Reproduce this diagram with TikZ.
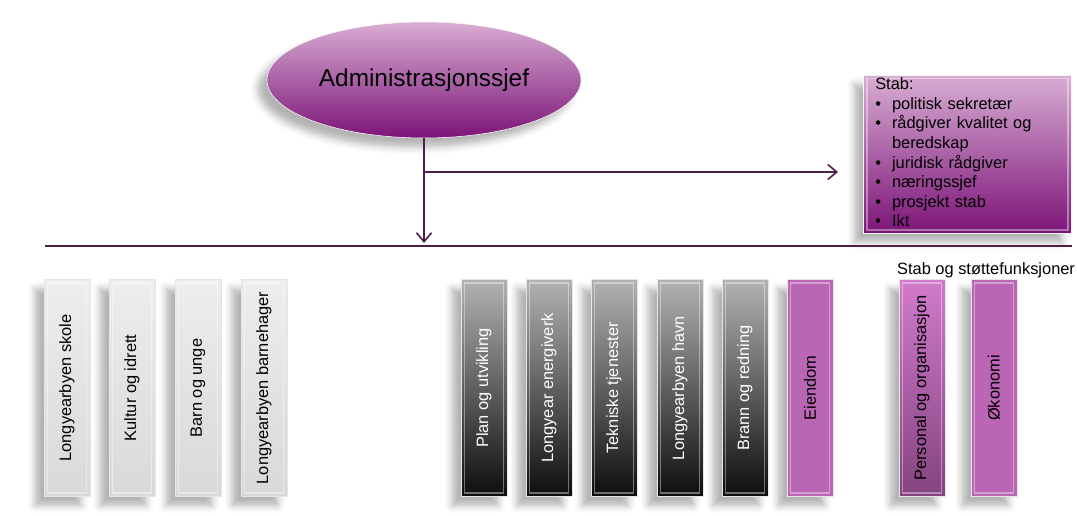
\documentclass[tikz,border=0pt]{standalone}
\usepackage{fontspec}
\setmainfont{Liberation Sans}
\usetikzlibrary{shapes.geometric,arrows.meta,shadows.blur}

\definecolor{linkpurple}{HTML}{4B1F48}
\definecolor{chieftop}{HTML}{D8ADD3}
\definecolor{chiefbottom}{HTML}{7C1478}
\definecolor{eiendom}{HTML}{BB65B5}
\definecolor{persontop}{HTML}{D27ACB}
\definecolor{personbottom}{HTML}{84437F}

\tikzset{
  softshadow/.style={blur shadow={shadow xshift=-9pt,shadow yshift=-9pt,shadow blur radius=7pt,shadow opacity=30}},
  bevel/.style={path picture={
      \draw[white,opacity=0.4,line width=1.4pt]
        ([shift={(3.5pt,3.5pt)}]path picture bounding box.south west)
        rectangle ([shift={(-3.5pt,-3.5pt)}]path picture bounding box.north east);}},
  unit/.style={rectangle, minimum width=46pt, minimum height=217pt, inner sep=0pt,
    draw=white!80!gray, line width=0.6pt, softshadow, bevel,
    font=\fontsize{16.4}{19.6}\selectfont},
  lightunit/.style={unit, top color=black!7, bottom color=black!15},
  darkunit/.style={unit, top color=black!30, middle color=black!48, bottom color=black!95, text=white},
  purpleunit/.style={unit, fill=eiendom},
  personunit/.style={unit, top color=persontop, bottom color=personbottom},
  chief/.style={ellipse, minimum width=314pt, minimum height=116pt, inner sep=0pt,
    top color=chieftop, bottom color=chiefbottom, draw=white!85!chieftop, line width=0.6pt,
    softshadow, font=\fontsize{24.4}{29}\selectfont},
  stabbox/.style={rectangle, minimum width=208pt, minimum height=158pt, text width=184pt,
    inner xsep=12pt, inner ysep=0pt,
    top color=chieftop, bottom color=chiefbottom, draw=white!85!chieftop, line width=0.6pt,
    softshadow, bevel, align=left, font=\fontsize{16.4}{19.6}\selectfont},
  link/.style={draw=linkpurple, line width=1.6pt},
  tip/.style={-{Straight Barb[length=9pt,width=15pt]}}
}

\begin{document}
\begin{tikzpicture}[x=1pt,y=-1pt]
  \useasboundingbox (0,0) rectangle (1077,516);

  % top
  \node[chief] (admin) at (424,80) {Administrasjonssjef};
  \node[stabbox, anchor=north west] (stab) at (863,75) {%
    \begin{tabular}{@{}l@{\hspace{11pt}}l@{}}
      \multicolumn{2}{@{}l@{}}{Stab:}\\
      \textbullet & politisk sekretær\\
      \textbullet & rådgiver kvalitet og\\
                  & beredskap\\
      \textbullet & juridisk rådgiver\\
      \textbullet & næringssjef\\
      \textbullet & prosjekt stab\\
      \textbullet & Ikt
    \end{tabular}};

  \coordinate (busleft) at (45,246);
  \coordinate (busright) at (1072,246);
  \coordinate (branch) at (424,172);

  \draw[link] (busleft) -- (busright);
  \draw[link,tip,shorten >=3pt] (admin.south) -- (admin.south |- busleft);
  \draw[link,tip,shorten >=25pt] (branch) -- (branch -| stab.west);

  % units
  \foreach \name/\x/\lbl in {skole/67/Longyearbyen skole, kultur/132/Kultur og idrett,
      barn/198/Barn og unge, barnehage/264/Longyearbyen barnehager}
    \node[lightunit] (\name) at (\x,388) {\rotatebox{90}{\lbl}};
  \foreach \name/\x/\lbl in {plan/484/Plan og utvikling, energi/549/Longyear energiverk,
      teknisk/614/Tekniske tjenester, havn/680/Longyearbyen havn, brann/745/Brann og redning}
    \node[darkunit] (\name) at (\x,388) {\rotatebox{90}{\lbl}};
  \node[purpleunit] (eiendom) at (810,388) {\rotatebox{90}{Eiendom}};

  \node[personunit] (personal) at (922,388) {\rotatebox{90}{Personal og organisasjon}};
  \node[purpleunit] (okonomi) at (994,388) {\rotatebox{90}{Økonomi}};
  \node[anchor=west, inner sep=0pt, font=\fontsize{16.4}{19.6}\selectfont] (stotte) at (897,270) {Stab og støttefunksjoner};
\end{tikzpicture}
\end{document}
